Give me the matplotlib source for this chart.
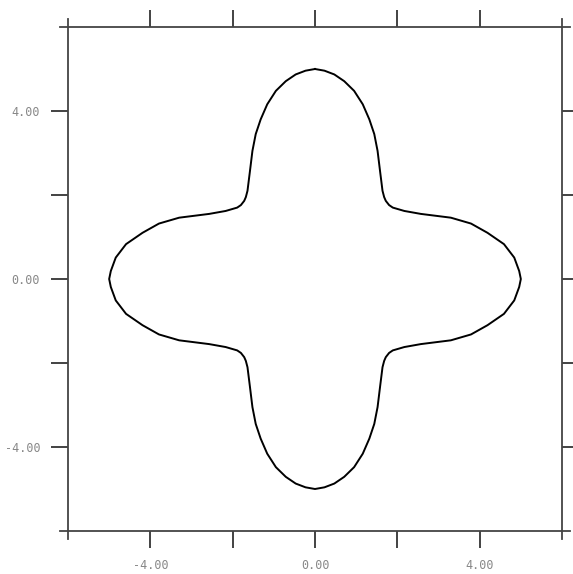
import numpy as np
import matplotlib
matplotlib.use("Agg")
import matplotlib.pyplot as plt

# first-quadrant outline, from the top (0, 5) to the right (5, 0)
quad_x = [0.00, 0.23, 0.47, 0.71, 0.95, 1.16, 1.32, 1.44, 1.52, 1.58, 1.64,
          1.68, 1.72, 1.80, 1.89, 2.17, 2.57, 3.30, 3.79, 4.19, 4.59, 4.84, 4.96, 5.00]
quad_y = [5.00, 4.96, 4.87, 4.71, 4.48, 4.16, 3.80, 3.45, 3.05, 2.57, 2.10,
          1.95, 1.86, 1.76, 1.70, 1.62, 1.55, 1.46, 1.32, 1.10, 0.83, 0.51, 0.19, 0.00]

tick_pos = [-4, -2, 0, 2, 4]
tick_lab = ["-4.00", "", "0.00", "", "4.00"]

# mirror the quadrant round the origin to close the curve
qx = np.array(quad_x)
qy = np.array(quad_y)
xs = np.concatenate([qx, qx[::-1], -qx, -qx[::-1]])
ys = np.concatenate([qy, -qy[::-1], -qy, qy[::-1]])

fig = plt.figure(figsize=(5.73, 5.74), dpi=100)
ax = fig.add_axes([68 / 573, 1 - 531 / 574, 494 / 573, 504 / 574])
ax.plot(xs, ys, color="black", lw=1.4)
ax.set_xlim(-6, 6)
ax.set_ylim(-6, 6)

# frame lines overshoot the corners a little
for s in ax.spines.values():
    s.set_visible(False)
ex, ey = 8 / 494, 8 / 504
frame = dict(transform=ax.transAxes, clip_on=False, color="#444444", lw=1.3)
ax.plot([-ex, 1 + ex], [0, 0], **frame)
ax.plot([-ex, 1 + ex], [1, 1], **frame)
ax.plot([0, 0], [-ey, 1 + ey], **frame)
ax.plot([1, 1], [-ey, 1 + ey], **frame)

ax.set_xticks(tick_pos)
ax.set_yticks(tick_pos)
ax.set_xticklabels(tick_lab)
ax.set_yticklabels(tick_lab)
ax.tick_params(direction="out", length=12, width=1.2, color="#222222",
               top=True, right=True, labelsize=8.5, labelcolor="#888888")
ax.tick_params(axis="x", pad=8)
ax.tick_params(axis="y", pad=8)
for lab in ax.get_xticklabels() + ax.get_yticklabels():
    lab.set_family("DejaVu Sans Mono")

fig.savefig("out.png", dpi=100)
